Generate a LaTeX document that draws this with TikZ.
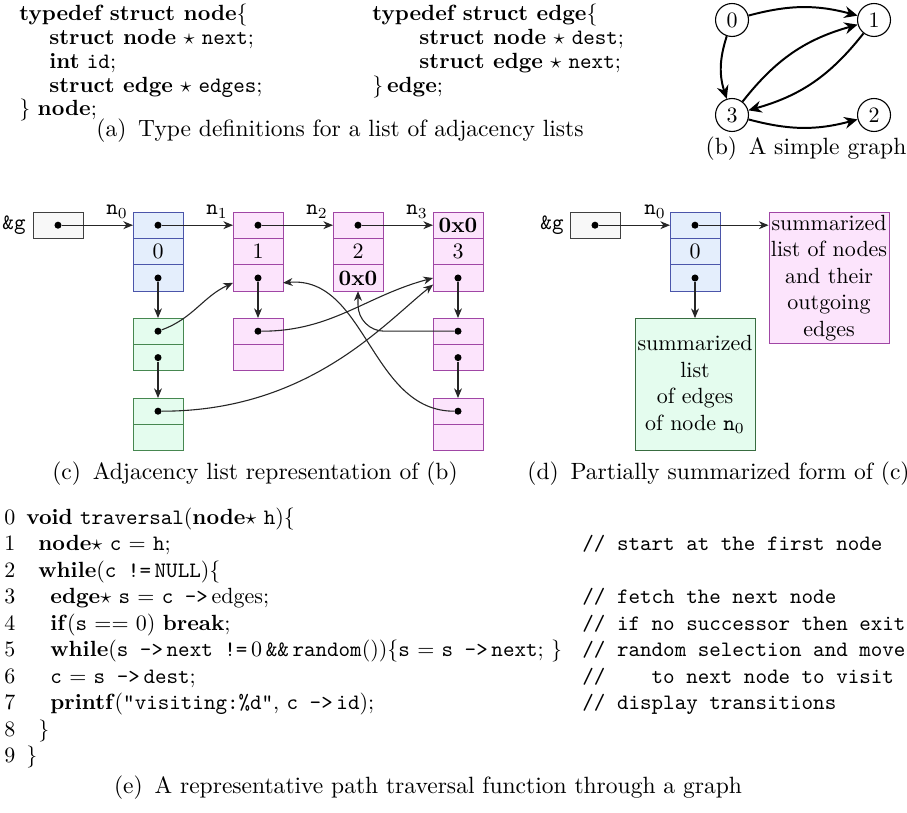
\documentclass[tikz,border=0pt]{standalone}
\usetikzlibrary{arrows.meta}
\definecolor{bfill}{RGB}{228,238,252}
\definecolor{bdraw}{RGB}{75,85,170}
\definecolor{pfill}{RGB}{252,228,252}
\definecolor{pdraw}{RGB}{160,70,165}
\definecolor{gfill}{RGB}{228,252,238}
\definecolor{gdraw}{RGB}{70,135,80}
\definecolor{hfill}{RGB}{248,248,248}
\begin{document}
\begin{tikzpicture}[x=0.455pt,y=-0.455pt,
  cellb/.style={draw=bdraw,fill=bfill,minimum width=22.75pt,minimum height=12pt,inner sep=0pt,outer sep=0pt},
  cellp/.style={cellb,draw=pdraw,fill=pfill},
  cellg/.style={cellb,draw=gdraw,fill=gfill},
  cellh/.style={cellb,draw=black!75,fill=hfill},
  ptdot/.style={circle,fill=black,inner sep=0pt,minimum size=3.2pt},
  ptr/.style={-{Stealth[length=4.4pt,width=3.6pt,inset=1.4pt]},line width=0.5pt,black!85},
  gedge/.style={-{Stealth[length=6pt,width=5.4pt,inset=2pt]},line width=0.9pt},
  gnode/.style={circle,draw,minimum size=15pt,inner sep=0pt,line width=0.5pt},
  code/.style={anchor=base west,inner sep=0pt},
  capt/.style={anchor=base,inner sep=0pt,font=\fontsize{10.7}{13}\selectfont},
  lbl/.style={anchor=base,inner sep=0pt},
  bigbox/.style={minimum width=54.6pt,minimum height=60pt,inner sep=0pt,align=center}
]
\useasboundingbox (0,0) rectangle (907,813);

% ---------- (a) type definitions
\node[code] (ta1) at (19,21) {\textbf{typedef struct node}\{};
\node[code] (ta2) at (49,45) {\textbf{struct node} $\star$ \texttt{next};};
\node[code] (ta3) at (49,69) {\textbf{int} \texttt{id};};
\node[code] (ta4) at (49,93) {\textbf{struct edge} $\star$ \texttt{edges};};
\node[code] (ta5) at (19,116) {\} \textbf{node};};
\node[code] (tb1) at (372,21) {\textbf{typedef struct edge}\{};
\node[code] (tb2) at (419,45) {\textbf{struct node} $\star$ \texttt{dest};};
\node[code] (tb3) at (419,69) {\textbf{struct edge} $\star$ \texttt{next};};
\node[code] (tb4) at (372,93) {\}\,\textbf{edge};};
\node[capt] (capa) at (340,137) {(a)\enspace Type definitions for a list of adjacency lists};

% ---------- (b) simple graph
\node[gnode] (v0) at (732,20) {0};
\node[gnode] (v1) at (874,20) {1};
\node[gnode] (v3) at (732,115) {3};
\node[gnode] (v2) at (874,115) {2};
\draw[gedge] (v0) to[bend left=15] (v1);
\draw[gedge] (v0) to[bend right=18] (v3);
\draw[gedge] (v3) to[bend left=18] (v1);
\draw[gedge] (v1) to[bend left=18] (v3);
\draw[gedge] (v3) to[bend right=15] (v2);
\node[capt] (capb) at (806,155) {(b)\enspace A simple graph};

% ---------- (c) adjacency list representation
\node[inner sep=0pt] (gtxt) at (14,225) {\texttt{\&g}};
\node[cellh] (gbox) at (58,225.2) {};
\node[ptdot] (dg) at (gbox) {};

\node[cellb] (n0a) at (158,225.2) {};
\node[cellb] (n0b) at (158,251.6) {0};
\node[cellb] (n0c) at (158,278) {};
\node[cellp] (n1a) at (258,225.2) {};
\node[cellp] (n1b) at (258,251.6) {1};
\node[cellp] (n1c) at (258,278) {};
\node[cellp] (n2a) at (358,225.2) {};
\node[cellp] (n2b) at (358,251.6) {2};
\node[cellp] (n2c) at (358,278) {\textbf{0x0}};
\node[cellp] (n3a) at (458,225.2) {\textbf{0x0}};
\node[cellp] (n3b) at (458,251.6) {3};
\node[cellp] (n3c) at (458,278) {};

\node[cellg] (g1a) at (158,331.2) {};
\node[cellg] (g1b) at (158,357.6) {};
\node[cellg] (g2a) at (158,411.2) {};
\node[cellg] (g2b) at (158,437.6) {};
\node[cellp] (p1a) at (258,331.2) {};
\node[cellp] (p1b) at (258,357.6) {};
\node[cellp] (p3a) at (458,331.2) {};
\node[cellp] (p3b) at (458,357.6) {};
\node[cellp] (p4a) at (458,411.2) {};
\node[cellp] (p4b) at (458,437.6) {};

\node[ptdot] (dn0a) at (n0a) {};
\node[ptdot] (dn0c) at (n0c) {};
\node[ptdot] (dn1a) at (n1a) {};
\node[ptdot] (dn1c) at (n1c) {};
\node[ptdot] (dn2a) at (n2a) {};
\node[ptdot] (dn3c) at (n3c) {};
\node[ptdot] (dg1a) at (g1a) {};
\node[ptdot] (dg1b) at (g1b) {};
\node[ptdot] (dg2a) at (g2a) {};
\node[ptdot] (dp1a) at (p1a) {};
\node[ptdot] (dp3a) at (p3a) {};
\node[ptdot] (dp3b) at (p3b) {};
\node[ptdot] (dp4a) at (p4a) {};

\draw[ptr] (dg) -- (n0a.west);
\draw[ptr] (dn0a) -- (n1a.west);
\draw[ptr] (dn1a) -- (n2a.west);
\draw[ptr] (dn2a) -- (n3a.west);
\node[lbl] (ln0) at (117,215) {\texttt{n}$_0$};
\node[lbl] (ln1) at (217,215) {\texttt{n}$_1$};
\node[lbl] (ln2) at (317,215) {\texttt{n}$_2$};
\node[lbl] (ln3) at (417,215) {\texttt{n}$_3$};

\draw[ptr] (dn0c) -- (g1a.north);
\draw[ptr] (dg1b) -- (g2a.north);
\draw[ptr] (dn1c) -- (p1a.north);
\draw[ptr] (dn3c) -- (p3a.north);
\draw[ptr] (dp3b) -- (p4a.north);

\draw[ptr] (dg1a) to[out=20,in=205] ([yshift=-2.2pt]n1c.west);
\draw[ptr] (dp1a) to[out=0,in=195] (n3c.west);
\draw[ptr] (dg2a) .. controls +(150,0) and +(-50,40) .. ([yshift=-3pt]n3c.west);
\draw[ptr,rounded corners=12pt] (dp3a) -| (n2c.south);
\draw[ptr] (dp4a) to[out=180,in=5] ([yshift=-2.2pt]n1c.east);

\node[capt] (capc) at (255,479) {(c)\enspace Adjacency list representation of (b)};

% ---------- (d) partially summarized form
\node[inner sep=0pt] (hgtxt) at (552,225) {\texttt{\&g}};
\node[cellh] (hgbox) at (595,225.2) {};
\node[ptdot] (dhg) at (hgbox) {};
\node[cellb] (m0a) at (695,225.2) {};
\node[cellb] (m0b) at (695,251.6) {0};
\node[cellb] (m0c) at (695,278) {};
\node[ptdot] (dm0a) at (m0a) {};
\node[ptdot] (dm0c) at (m0c) {};
\node[lbl] (lm0) at (655,215) {\texttt{n}$_0$};
\node[bigbox,draw=pdraw,fill=pfill] (pbox) at (829,278) {summarized\\list of nodes\\and their\\outgoing\\edges};
\node[bigbox,draw=gdraw!80!black,fill=gfill] (gbox2) at (695,384.5) {summarized\\list\\of edges\\of node \texttt{n}$_0$};
\draw[ptr] (dhg) -- (m0a.west);
\draw[ptr] (dm0a) -- (pbox.west |- dm0a);
\draw[ptr] (dm0c) -- (gbox2.north);
\node[capt,anchor=base west] (capd) at (527,479) {(d)\enspace Partially summarized form of (c)};

% ---------- (e) traversal function
\node[code] (l0) at (4,524) {0};
\node[code] (l1) at (4,550.5) {1};
\node[code] (l2) at (4,577) {2};
\node[code] (l3) at (4,603.5) {3};
\node[code] (l4) at (4,630) {4};
\node[code] (l5) at (4,656.5) {5};
\node[code] (l6) at (4,683) {6};
\node[code] (l7) at (4,709.5) {7};
\node[code] (l8) at (4,736) {8};
\node[code] (l9) at (4,762.5) {9};

\node[code] (c0) at (26,524) {\textbf{void} \texttt{traversal}(\textbf{node}$\star$ \texttt{h})\{};
\node[code] (c1) at (38,550.5) {\textbf{node}$\star$ \texttt{c} $=$ \texttt{h};};
\node[code] (c2) at (38,577) {\textbf{while}(\texttt{c !=}\,\texttt{NULL})\{};
\node[code] (c3) at (50,603.5) {\textbf{edge}$\star$ \texttt{s} $=$ \texttt{c ->}\,edges;};
\node[code] (c4) at (50,630) {\textbf{if}(\texttt{s} $==$ 0) \textbf{break};};
\node[code] (c5) at (50,656.5) {\textbf{while}(\texttt{s ->}\,\texttt{next !=}\,0\,\texttt{\&\&}\,\texttt{random}())\{\texttt{s} $=$ \texttt{s ->}\,\texttt{next}; \}};
\node[code] (c6) at (50,683) {\texttt{c} $=$ \texttt{s ->}\,\texttt{dest};};
\node[code] (c7) at (50,709.5) {\textbf{printf}(\texttt{"visiting:\%d"}, \texttt{c ->}\,\texttt{id});};
\node[code] (c8) at (38,736) {\}};
\node[code] (c9) at (26,762.5) {\}};

\node[code] (k1) at (582,550.5) {\texttt{// start at the first node}};
\node[code] (k3) at (582,603.5) {\texttt{// fetch the next node}};
\node[code] (k4) at (582,630) {\texttt{// if no successor then exit}};
\node[code] (k5) at (582,656.5) {\texttt{// random selection and move}};
\node[code] (k6) at (582,683) {\texttt{//\ \ \ \ to next node to visit}};
\node[code] (k7) at (582,709.5) {\texttt{// display transitions}};

\node[capt] (cape) at (428,793) {(e)\enspace A representative path traversal function through a graph};
\end{tikzpicture}
\end{document}
